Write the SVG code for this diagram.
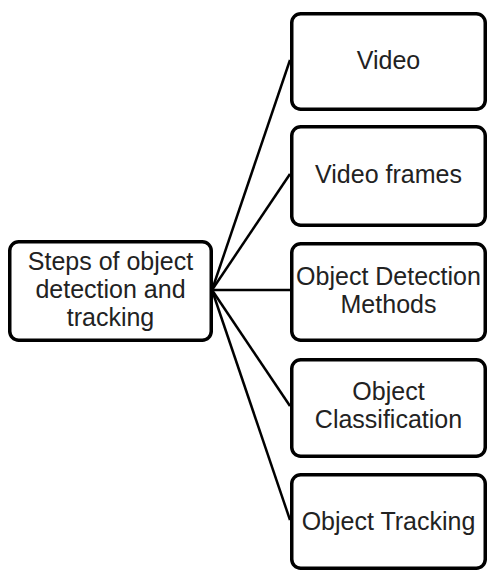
<svg xmlns="http://www.w3.org/2000/svg" width="489" height="573" viewBox="0 0 489 573">
<style>
.box{fill:#fff;stroke:#000;stroke-width:3.5}
.t{font-family:"Liberation Sans",Arial,sans-serif;font-size:25px;fill:#222;text-anchor:middle}
.c{stroke:#000;stroke-width:2.5;fill:none}
</style>
<rect width="489" height="573" fill="#fff"/>
<g id="connectors">
<line class="c" x1="212" y1="290" x2="290" y2="60"/>
<line class="c" x1="212" y1="290" x2="290" y2="174"/>
<line class="c" x1="212" y1="290" x2="290" y2="290"/>
<line class="c" x1="212" y1="290" x2="290" y2="406"/>
<line class="c" x1="212" y1="290" x2="290" y2="520"/>
</g>
<g id="root">
<rect class="box" x="9.75" y="241.75" width="201.5" height="98.5" rx="9"/>
<text class="t" x="110.5" y="270">Steps of object</text>
<text class="t" x="110.5" y="298">detection and</text>
<text class="t" x="110.5" y="326">tracking</text>
</g>
<g id="video">
<rect class="box" x="291.75" y="13.75" width="193.5" height="95.5" rx="9"/>
<text class="t" x="388.5" y="69">Video</text>
</g>
<g id="frames">
<rect class="box" x="291.75" y="126.75" width="193.5" height="98.5" rx="9"/>
<text class="t" x="388.5" y="183">Video frames</text>
</g>
<g id="detection">
<rect class="box" x="291.75" y="243.75" width="193.5" height="96.5" rx="9"/>
<text class="t" x="388.5" y="285">Object Detection</text>
<text class="t" x="388.5" y="313">Methods</text>
</g>
<g id="classification">
<rect class="box" x="291.75" y="359.75" width="193.5" height="96.5" rx="9"/>
<text class="t" x="388.5" y="400">Object</text>
<text class="t" x="388.5" y="428">Classification</text>
</g>
<g id="tracking">
<rect class="box" x="291.75" y="474.75" width="193.5" height="93.5" rx="9"/>
<text class="t" x="388.5" y="530">Object Tracking</text>
</g>
</svg>
